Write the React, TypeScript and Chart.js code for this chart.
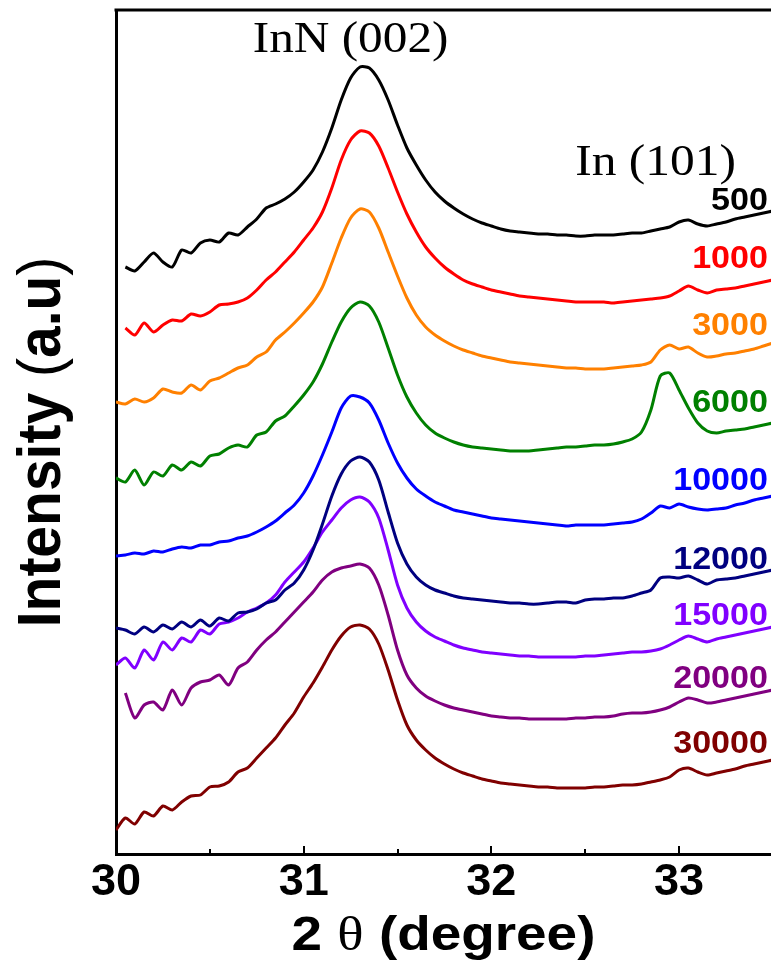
import React, { useEffect, useRef } from "react";
import { Chart, registerables } from "chart.js";

Chart.register(...registerables);

// 2θ sample positions (degree)
const twoTheta = [
  30.0, 30.05, 30.1, 30.15, 30.2, 30.25, 30.3, 30.35, 30.4, 30.45,
  30.5, 30.55, 30.6, 30.65, 30.7, 30.75, 30.8, 30.85, 30.9, 30.95,
  31.0, 31.05, 31.1, 31.15, 31.2, 31.25, 31.3, 31.35, 31.4, 31.45,
  31.5, 31.55, 31.6, 31.65, 31.7, 31.75, 31.8, 31.85, 31.9, 31.95,
  32.0, 32.05, 32.1, 32.15, 32.2, 32.25, 32.3, 32.35, 32.4, 32.45,
  32.5, 32.55, 32.6, 32.65, 32.7, 32.75, 32.8, 32.85, 32.9, 32.95,
  33.0, 33.05, 33.1, 33.15, 33.2, 33.25, 33.3, 33.35, 33.4, 33.45,
  33.5,
];

// Intensities (a.u., stacked offsets as in the figure)
const s500 = [null, 587, 583, 592, 601, 592, 587, 604, 601, 611, 614, 612, 621, 619, 627, 635, 646, 650, 655, 662, 672, 684, 702, 726, 754, 776, 787, 786, 774, 754, 729, 706, 689, 674, 662, 653, 646, 640, 635, 631, 628, 625, 623, 622, 621, 620, 620, 619, 619, 618, 618, 619, 619, 619, 620, 621, 621, 623, 625, 627, 632, 634, 630, 628, 630, 632, 635, 637, 639, 641, 643];
const s1000 = [null, 526, 519, 531, 522, 529, 534, 533, 540, 538, 542, 549, 550, 552, 556, 564, 574, 582, 592, 602, 614, 626, 642, 666, 694, 714, 723, 721, 708, 686, 662, 640, 622, 607, 596, 587, 580, 574, 570, 567, 564, 562, 560, 558, 557, 556, 555, 554, 553, 552, 552, 552, 552, 551, 552, 553, 554, 555, 556, 558, 563, 568, 564, 561, 564, 565, 566, 568, 570, 572, 574];
const s3000 = [452, 450, 455, 452, 456, 465, 462, 461, 469, 464, 473, 476, 481, 486, 489, 497, 502, 514, 522, 531, 541, 552, 567, 591, 616, 636, 645, 642, 626, 602, 578, 556, 539, 527, 519, 513, 508, 504, 501, 498, 496, 494, 492, 491, 490, 489, 488, 487, 486, 486, 485, 485, 485, 486, 487, 488, 489, 492, 504, 509, 505, 507, 501, 497, 498, 500, 501, 503, 505, 508, 511];
const s6000 = [376, 372, 384, 369, 382, 378, 389, 384, 392, 388, 398, 400, 406, 409, 407, 419, 422, 433, 438, 448, 459, 472, 490, 512, 532, 546, 552, 548, 532, 506, 479, 457, 441, 429, 421, 416, 412, 409, 407, 406, 405, 404, 403, 403, 403, 404, 405, 406, 407, 407, 408, 409, 409, 410, 412, 415, 422, 444, 478, 481, 464, 446, 431, 423, 421, 423, 424, 425, 427, 429, 431];
const s10000 = [298, 299, 301, 300, 303, 302, 305, 307, 306, 309, 309, 312, 313, 316, 318, 322, 327, 333, 341, 349, 361, 378, 399, 422, 446, 458, 457, 451, 434, 411, 391, 376, 365, 358, 352, 348, 344, 342, 340, 338, 336, 335, 334, 333, 332, 331, 330, 329, 328, 329, 329, 329, 329, 330, 331, 332, 335, 341, 348, 346, 350, 347, 345, 344, 345, 346, 349, 351, 354, 356, 358];
const s12000 = [226, 224, 220, 227, 222, 229, 225, 232, 227, 234, 228, 236, 233, 241, 242, 245, 251, 254, 264, 271, 284, 304, 330, 358, 380, 393, 397, 392, 374, 342, 311, 290, 277, 269, 264, 261, 258, 256, 255, 254, 253, 252, 251, 251, 250, 250, 251, 252, 252, 251, 254, 255, 255, 256, 256, 258, 261, 264, 276, 277, 276, 278, 274, 270, 274, 275, 276, 278, 280, 282, 284];
const s15000 = [189, 196, 186, 204, 194, 212, 204, 216, 212, 224, 220, 230, 232, 236, 242, 246, 251, 259, 272, 282, 292, 306, 322, 334, 346, 354, 357, 352, 336, 304, 269, 246, 232, 223, 217, 213, 209, 206, 204, 202, 201, 200, 199, 198, 198, 197, 197, 197, 197, 197, 198, 198, 199, 200, 201, 202, 202, 203, 205, 209, 214, 218, 215, 212, 215, 217, 219, 221, 223, 225, 227];
const s20000 = [null, 161, 136, 149, 152, 144, 164, 149, 166, 172, 174, 179, 169, 186, 192, 204, 214, 222, 232, 242, 252, 262, 274, 282, 286, 288, 290, 286, 269, 239, 204, 179, 166, 158, 153, 149, 146, 144, 142, 140, 138, 137, 136, 136, 135, 135, 135, 135, 135, 136, 136, 137, 137, 138, 140, 141, 141, 142, 144, 147, 152, 156, 154, 151, 152, 154, 156, 158, 160, 162, 164];
const s30000 = [24, 36, 30, 42, 38, 48, 44, 52, 58, 59, 67, 68, 72, 82, 86, 96, 106, 116, 129, 141, 157, 171, 187, 204, 218, 227, 229, 225, 210, 184, 154, 129, 114, 104, 96, 90, 85, 81, 78, 75, 73, 71, 70, 69, 68, 67, 67, 66, 66, 66, 66, 67, 67, 68, 69, 69, 70, 72, 74, 77, 84, 86, 82, 79, 81, 83, 85, 88, 90, 92, 94];

const seriesLabels = ["500", "1000", "3000", "6000", "10000", "12000", "15000", "20000", "30000"];
const seriesValues = [s500, s1000, s3000, s6000, s10000, s12000, s15000, s20000, s30000];
const seriesColors = ["#000000", "#ff0000", "#ff8000", "#008000", "#0000ff", "#000080", "#8000ff", "#800080", "#800000"];

const xTickLabels = [30, 31, 32, 33];
const xTickMarks = [30.5, 31, 31.5, 32, 32.5, 33];

// layout/style (pixel positions of the series labels' baselines)
const labelBaselines = [210, 268, 335, 412, 490, 569, 625, 688, 753];

const SANS = "'Liberation Sans', Arial, Helvetica, sans-serif";
const SERIF = "'Liberation Serif', 'Times New Roman', serif";

type Part = { t: string; font: string };

function drawParts(ctx: CanvasRenderingContext2D, parts: Part[], cx: number) {
  let total = 0;
  const widths = parts.map((p) => {
    ctx.font = p.font;
    const w = ctx.measureText(p.t).width;
    total += w;
    return w;
  });
  let x = cx - total / 2;
  parts.forEach((p, i) => {
    ctx.font = p.font;
    ctx.fillText(p.t, x, 0);
    x += widths[i];
  });
}

const decor = {
  id: "decor",
  afterDraw(chart: any) {
    const { ctx, chartArea: a, scales } = chart;
    const xs = scales.x;
    ctx.save();
    // top frame
    ctx.strokeStyle = "#000";
    ctx.lineWidth = 3;
    ctx.beginPath();
    ctx.moveTo(a.left - 1.5, a.top);
    ctx.lineTo(a.right + 2, a.top);
    ctx.stroke();
    // inward tick marks
    ctx.lineWidth = 2;
    xTickMarks.forEach((v) => {
      const px = Math.round(xs.getPixelForValue(v));
      const len = Number.isInteger(v) ? 8 : 5;
      ctx.beginPath();
      ctx.moveTo(px, a.bottom);
      ctx.lineTo(px, a.bottom - len);
      ctx.stroke();
    });

    ctx.textBaseline = "alphabetic";
    // series labels
    chart.data.datasets.forEach((ds: any, k: number) => {
      ctx.save();
      ctx.translate(768, labelBaselines[k]);
      ctx.scale(1.1, 1);
      ctx.fillStyle = ds.borderColor;
      ctx.font = `bold 31px ${SANS}`;
      ctx.textAlign = "right";
      ctx.fillText(ds.label, 0, 0);
      ctx.restore();
    });

    ctx.fillStyle = "#000";
    ctx.textAlign = "center";
    // peak annotations
    ctx.save();
    ctx.translate(xs.getPixelForValue(31.25), 52);
    ctx.scale(1.12, 1);
    ctx.font = `44px ${SERIF}`;
    ctx.fillText("InN (002)", 0, 0);
    ctx.restore();

    ctx.save();
    ctx.translate(xs.getPixelForValue(32.875), 175);
    ctx.scale(1.1, 1);
    ctx.font = `45px ${SERIF}`;
    ctx.fillText("In (101)", 0, 0);
    ctx.restore();

    // x title
    ctx.textAlign = "left";
    ctx.save();
    ctx.translate((a.left + a.right) / 2, 950);
    ctx.scale(1.12, 1);
    drawParts(ctx, [
      { t: "2 ", font: `bold 49px ${SANS}` },
      { t: "θ", font: `49px ${SERIF}` },
      { t: " (degree)", font: `bold 49px ${SANS}` },
    ], 0);
    ctx.restore();

    // y title
    ctx.save();
    ctx.translate(60, 442);
    ctx.rotate(-Math.PI / 2);
    ctx.scale(1, 1.08);
    drawParts(ctx, [
      { t: "Intensity ", font: `bold 57px ${SANS}` },
      { t: "(", font: `57px ${SANS}` },
      { t: "a.u", font: `bold 57px ${SANS}` },
      { t: ")", font: `57px ${SANS}` },
    ], 0);
    ctx.restore();

    ctx.restore();
  },
};

export default function App() {
  const ref = useRef<HTMLCanvasElement>(null);
  useEffect(() => {
    const chart = new Chart(ref.current as HTMLCanvasElement, {
      type: "line",
      data: {
        datasets: seriesValues.map((vals, k) => ({
          label: seriesLabels[k],
          data: twoTheta.map((x, i) => ({ x, y: vals[i] })),
          borderColor: seriesColors[k],
          backgroundColor: seriesColors[k],
          borderWidth: 3,
          pointRadius: 0,
          tension: 0.25,
          fill: false,
          spanGaps: false,
        })),
      } as any,
      options: {
        responsive: false,
        animation: false,
        devicePixelRatio: 1,
        layout: { padding: { top: 10, right: 0, left: 0, bottom: 0 } },
        plugins: { legend: { display: false }, tooltip: { enabled: false } },
        scales: {
          x: {
            type: "linear",
            min: 30,
            max: 33.49,
            grid: { display: false, drawTicks: false },
            border: { display: true, color: "#000", width: 3 },
            ticks: {
              color: "#000",
              padding: 2,
              font: { family: SANS, size: 45, weight: "bold" },
            },
            afterBuildTicks: (s: any) => {
              s.ticks = xTickLabels.map((v) => ({ value: v }));
            },
            afterFit: (s: any) => {
              s.height = 111;
            },
          },
          y: {
            min: 0,
            max: 844,
            grid: { display: false, drawTicks: false },
            border: { display: true, color: "#000", width: 3 },
            ticks: { display: false },
            afterFit: (s: any) => {
              s.width = 116;
            },
          },
        },
      } as any,
      plugins: [decor],
    });
    return () => chart.destroy();
  }, []);
  return (
    <div style={{ position: "absolute", left: 0, top: 0, width: 771, height: 965, background: "#fff" }}>
      <canvas ref={ref} width={771} height={965} style={{ display: "block" }} />
    </div>
  );
}
